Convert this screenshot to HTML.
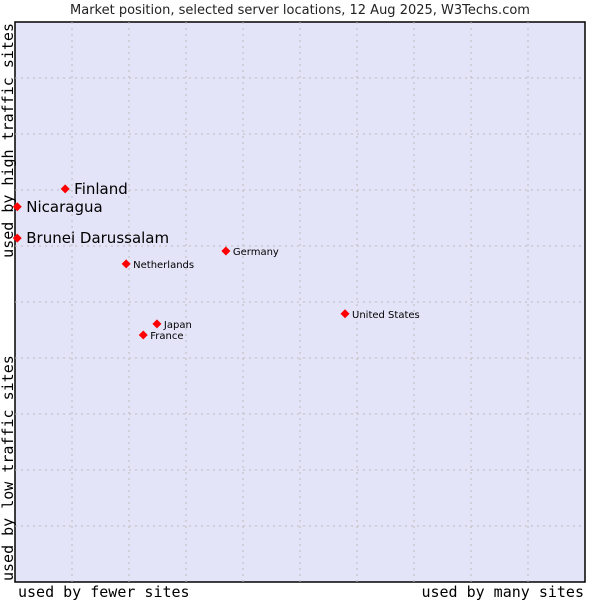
<!DOCTYPE html>
<html><head><meta charset="utf-8"><style>
html,body{margin:0;padding:0;background:#fff;width:600px;height:600px;overflow:hidden}
svg{display:block}
</style></head><body>
<svg id="chart" width="600" height="600" xmlns="http://www.w3.org/2000/svg">
<text x="300" y="14" text-anchor="middle" font-family="DejaVu Sans, sans-serif" font-size="13" fill="#222">Market position, selected server locations, 12 Aug 2025, W3Techs.com</text>
<rect x="15" y="22" width="570" height="560" fill="#e4e4f8" stroke="#000" stroke-width="1.5"/>
<g id="grid"></g>
<g id="points"></g>
<text x="18" y="597" font-family="DejaVu Sans Mono, monospace" font-size="15" fill="#000">used by fewer sites</text>
<text x="584" y="597" text-anchor="end" font-family="DejaVu Sans Mono, monospace" font-size="15" fill="#000">used by many sites</text>
<text transform="translate(13,581) rotate(-90)" font-family="DejaVu Sans Mono, monospace" font-size="15" fill="#000">used by low traffic sites</text>
<text transform="translate(13,23) rotate(-90)" text-anchor="end" font-family="DejaVu Sans Mono, monospace" font-size="15" fill="#000">used by high traffic sites</text>
</svg>
<script>
const names = ["Finland","Nicaragua","Brunei Darussalam","Germany","Netherlands","United States","Japan","France"];
const xValues = [8.8,0.4,0.4,37.0,19.5,57.9,24.9,22.5];
const yValues = [70.2,67.0,61.4,59.1,56.8,47.9,46.1,44.1];
const bigLabel = [true,true,true,false,false,false,false,false];
const gridTicks = [10,20,30,40,50,60,70,80,90];
const NS="http://www.w3.org/2000/svg";
const X0=15,W=570,Y0=22,H=560;
function sx(v){return X0+v/100*W;}
function sy(v){return Y0+H-v/100*H;}
const grid=document.getElementById('grid');
gridTicks.forEach(t=>{
  const v=document.createElementNS(NS,'line');
  
  
  v.setAttribute('x1',sx(t));v.setAttribute('x2',sx(t));v.setAttribute('y1',Y0);v.setAttribute('y2',Y0+H);
  v.setAttribute('stroke','#bbb');v.setAttribute('stroke-dasharray','2,4');
  grid.appendChild(v);
  const h=document.createElementNS(NS,'line');
  
  
  h.setAttribute('y1',sy(t));h.setAttribute('y2',sy(t));h.setAttribute('x1',X0);h.setAttribute('x2',X0+W);
  h.setAttribute('stroke','#bbb');h.setAttribute('stroke-dasharray','2,4');
  grid.appendChild(h);
});
const pts=document.getElementById('points');
names.forEach((n,i)=>{
  const x=sx(xValues[i]),y=sy(yValues[i]);
  const d=document.createElementNS(NS,'path');
  
  
  d.setAttribute('d',`M${x-4.5},${y} L${x},${y-4.5} L${x+4.5},${y} L${x},${y+4.5} Z`);
  d.setAttribute('fill','#f00');
  pts.appendChild(d);
  const t=document.createElementNS(NS,'text');
  
  
  t.setAttribute('x',x+(bigLabel[i]?9:7));
  t.setAttribute('y',y+(bigLabel[i]?5:4));
  t.setAttribute('font-family','DejaVu Sans, sans-serif');
  t.setAttribute('font-size',bigLabel[i]?'15':'10');
  t.setAttribute('fill','#000');
  t.textContent=n;
  pts.appendChild(t);
});
</script>
</body></html>
